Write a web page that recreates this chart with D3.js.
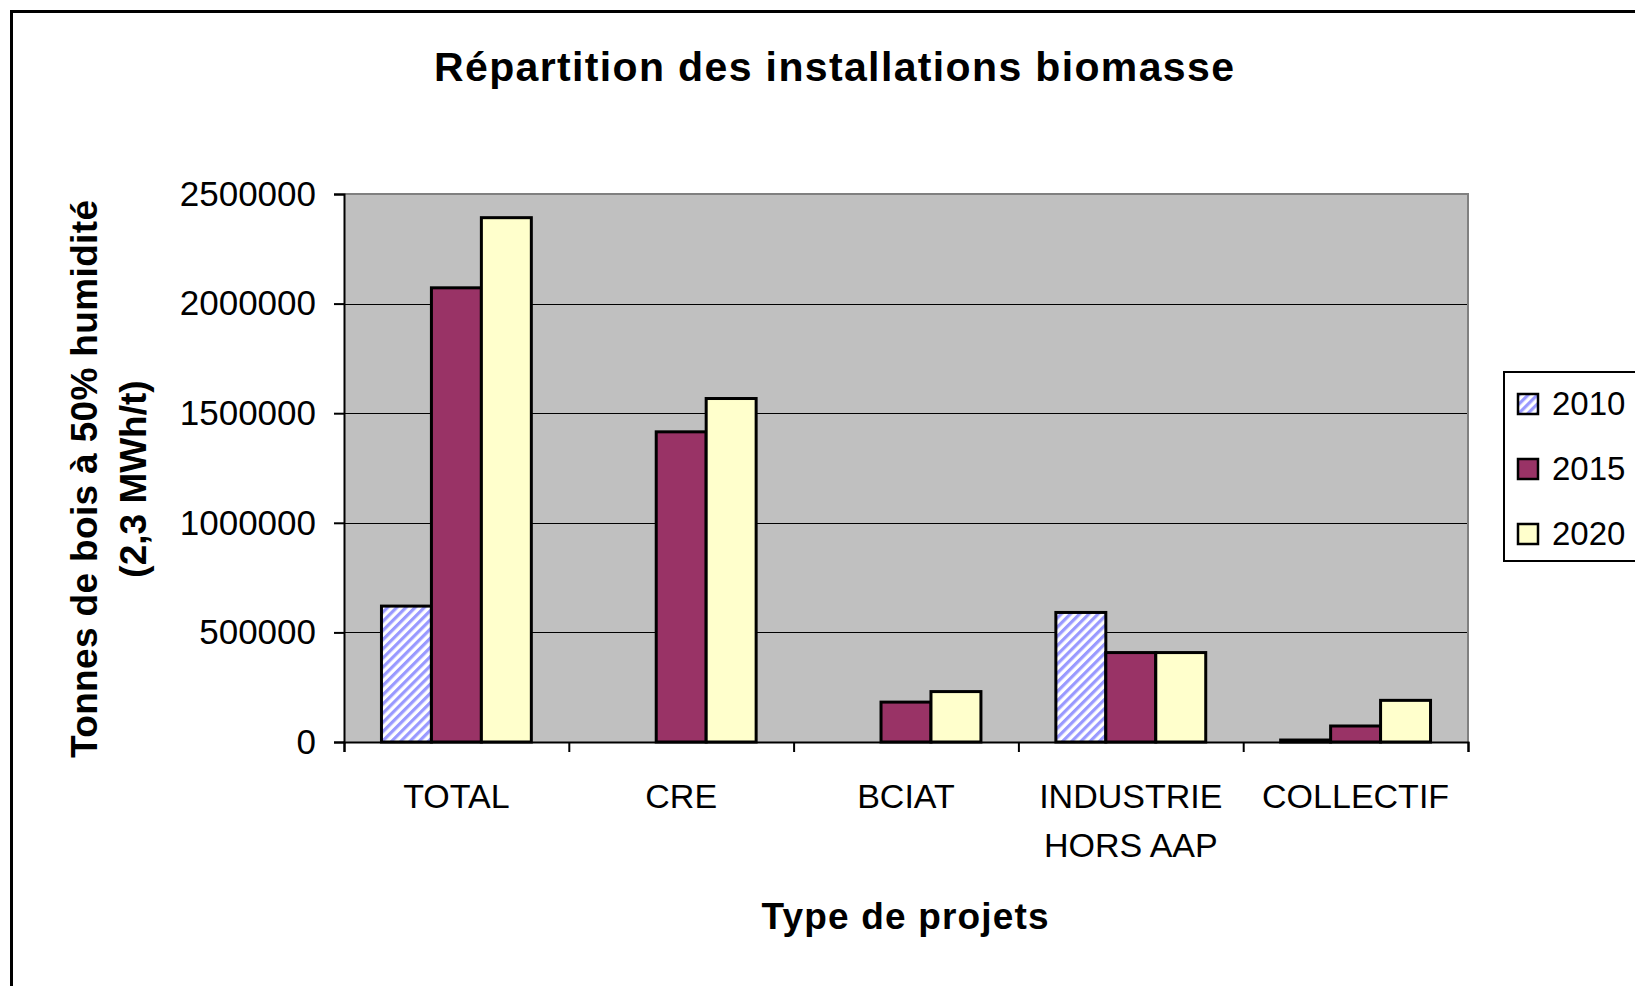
<!DOCTYPE html>
<html>
<head>
<meta charset="utf-8">
<script src="https://cdn.jsdelivr.net/npm/d3@7"></script>
<style>
  body { margin: 0; background: #ffffff; }
  svg { display: block; font-family: "Liberation Sans", Arial, sans-serif; }
</style>
</head>
<body>
<div id="chart"></div>
<script>
// Chart data
var categories = ["TOTAL", "CRE", "BCIAT", "INDUSTRIE\nHORS AAP", "COLLECTIF"];
var seriesNames = ["2010", "2015", "2020"];
var values2010 = [620000, null, null, 591000, 9000];
var values2015 = [2072000, 1415000, 182000, 408000, 73000];
var values2020 = [2392000, 1567000, 230000, 408000, 190000];
var yTicks = [0, 500000, 1000000, 1500000, 2000000, 2500000];

var svgWidth = 1635;
var svgHeight = 986;

// plot area in page pixels
var plot = { left: 344, right: 1468, top: 194, bottom: 742 };

var svg = d3.select("#chart")
    .append("svg")
    .attr("width", svgWidth)
    .attr("height", svgHeight);

// hatch pattern for 2010
var defs = svg.append("defs");
var hatch = defs.append("pattern")
    .attr("id", "hatch")
    .attr("patternUnits", "userSpaceOnUse")
    .attr("width", 6.5)
    .attr("height", 6.5)
    .attr("patternTransform", "rotate(45)");
hatch.append("rect").attr("width", 6.5).attr("height", 6.5).attr("fill", "#ffffff");
hatch.append("rect").attr("width", 3.2).attr("height", 6.5).attr("fill", "#9999ff");

var seriesFill = ["url(#hatch)", "#993366", "#ffffcc"];

// outer chart frame (cut off right and bottom like the reference)
svg.append("rect")
    .attr("x", 11.5)
    .attr("y", 11.5)
    .attr("width", 1800)
    .attr("height", 1200)
    .attr("fill", "none")
    .attr("stroke", "#000")
    .attr("stroke-width", 3);

// title
svg.append("text")
    .attr("x", 834)
    .attr("y", 81)
    .attr("text-anchor", "middle")
    .attr("font-size", 41)
    .attr("font-weight", "bold")
    .attr("textLength", 800)
    .attr("lengthAdjust", "spacing")
    .text("Répartition des installations biomasse");

// scales
var xScale = d3.scaleBand()
    .domain(categories)
    .range([plot.left, plot.right])
    .padding(0);

var barWidth = xScale.bandwidth() / 4.5;

var xSeries = d3.scaleBand()
    .domain(seriesNames)
    .range([0.75 * barWidth, 3.75 * barWidth])
    .padding(0);

var yScale = d3.scaleLinear()
    .domain([0, 2500000])
    .range([plot.bottom, plot.top]);

// plot background
svg.append("rect")
    .attr("x", plot.left)
    .attr("y", plot.top)
    .attr("width", plot.right - plot.left)
    .attr("height", plot.bottom - plot.top)
    .attr("fill", "#c0c0c0");

// gridlines
svg.append("g")
    .selectAll("line")
    .data(yTicks.slice(1, -1))
    .enter()
    .append("line")
    .attr("x1", plot.left)
    .attr("x2", plot.right)
    .attr("y1", d => Math.round(yScale(d)) + 0.5)
    .attr("y2", d => Math.round(yScale(d)) + 0.5)
    .attr("stroke", "#000")
    .attr("stroke-width", 1);

// plot border, top and right in grey
svg.append("path")
    .attr("d", `M${plot.left},${plot.top} H${plot.right} V${plot.bottom}`)
    .attr("fill", "none")
    .attr("stroke", "#808080")
    .attr("stroke-width", 2);

// bars
var seriesData = [values2010, values2015, values2020];
seriesData.forEach(function(values, i) {
    svg.append("g")
        .selectAll("rect")
        .data(values.map((v, j) => ({ cat: categories[j], value: v })).filter(d => d.value !== null))
        .enter()
        .append("rect")
        .attr("x", d => xScale(d.cat) + xSeries(seriesNames[i]))
        .attr("y", d => yScale(d.value))
        .attr("width", xSeries.bandwidth())
        .attr("height", d => yScale(0) - yScale(d.value))
        .attr("fill", seriesFill[i])
        .attr("stroke", "#000")
        .attr("stroke-width", 3);
});

// y axis
var leftAxis = d3.axisLeft(yScale)
    .tickValues(yTicks)
    .tickFormat(d3.format("d"))
    .tickSize(10)
    .tickPadding(18);

var yAxis = svg.append("g")
    .attr("transform", `translate(${plot.left}, 0)`)
    .call(leftAxis);
yAxis.select(".domain").attr("stroke", "#000").attr("stroke-width", 2);
yAxis.selectAll(".tick line").attr("stroke-width", 2);
yAxis.selectAll("text")
    .attr("font-size", 35)
    .attr("font-family", "Liberation Sans, Arial, sans-serif")
    .attr("fill", "#000");

// x axis with ticks between categories
var xTickScale = d3.scaleLinear()
    .domain([0, categories.length])
    .range([plot.left, plot.right]);

var bottomAxis = d3.axisBottom(xTickScale)
    .ticks(categories.length)
    .tickFormat("")
    .tickSizeOuter(0)
    .tickSize(10);

var xAxis = svg.append("g")
    .attr("transform", `translate(0, ${plot.bottom})`)
    .call(bottomAxis);
xAxis.select(".domain").attr("stroke", "#000").attr("stroke-width", 2);
xAxis.selectAll(".tick line").attr("stroke-width", 2);

// category labels
var catLabels = svg.append("g")
    .selectAll("text")
    .data(categories)
    .enter()
    .append("text")
    .attr("text-anchor", "middle")
    .attr("font-size", 34)
    .attr("fill", "#000");

catLabels.each(function(d) {
    var lines = d.split("\n");
    var t = d3.select(this);
    lines.forEach(function(line, k) {
        t.append("tspan")
            .attr("x", xScale(d) + xScale.bandwidth() / 2)
            .attr("y", 808 + k * 49)
            .text(line);
    });
});

// x axis title
svg.append("text")
    .attr("x", 905)
    .attr("y", 929)
    .attr("text-anchor", "middle")
    .attr("font-size", 37)
    .attr("font-weight", "bold")
    .attr("textLength", 287)
    .attr("lengthAdjust", "spacing")
    .text("Type de projets");

// y axis title, two lines
var yTitle = svg.append("g")
    .attr("transform", "translate(0, 479) rotate(-90)")
    .attr("text-anchor", "middle")
    .attr("font-size", 37)
    .attr("font-weight", "bold");

yTitle.append("text")
    .attr("x", 0)
    .attr("y", 97)
    .attr("textLength", 558)
    .attr("lengthAdjust", "spacing")
    .text("Tonnes de bois à 50% humidité");

yTitle.append("text")
    .attr("x", 0)
    .attr("y", 146)
    .text("(2,3 MWh/t)");

// legend
var legend = svg.append("g");
legend.append("rect")
    .attr("x", 1504)
    .attr("y", 372)
    .attr("width", 300)
    .attr("height", 189)
    .attr("fill", "#fff")
    .attr("stroke", "#000")
    .attr("stroke-width", 2);

var legendRows = legend.selectAll("g.row")
    .data(seriesNames)
    .enter()
    .append("g")
    .attr("class", "row")
    .attr("transform", (d, i) => `translate(0, ${404 + i * 65})`);

legendRows.append("rect")
    .attr("x", 1518)
    .attr("y", -10)
    .attr("width", 20)
    .attr("height", 20)
    .attr("fill", (d, i) => seriesFill[i])
    .attr("stroke", "#000")
    .attr("stroke-width", 2.5);

legendRows.append("text")
    .attr("x", 1552)
    .attr("y", 11)
    .attr("font-size", 33)
    .attr("fill", "#000")
    .text(d => d);
</script>
</body>
</html>
